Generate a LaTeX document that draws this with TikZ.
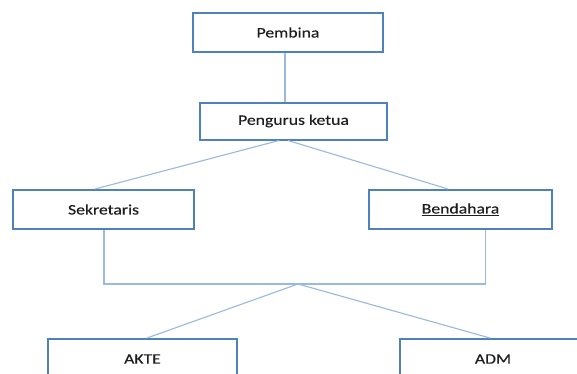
\documentclass[tikz,border=0pt]{standalone}
\usepackage{fontspec}
\setmainfont{Carlito}[FakeStretch=1.22,FakeBold=0.4]
\definecolor{boxblue}{RGB}{79,129,189}
\definecolor{lineblue}{RGB}{155,185,222}
\definecolor{txt}{RGB}{30,30,30}
\begin{document}
\begin{tikzpicture}[x=1pt,y=-1pt,
  orgbox/.style={draw=boxblue,line width=2pt,fill=white,rectangle,inner sep=0pt,
    font=\fontsize{14.5}{16}\selectfont,text=txt},
  conn/.style={draw=lineblue,line width=1.1pt}]
\useasboundingbox (0,0) rectangle (577,373);
\clip (0,0) rectangle (577,373);
\fill[white] (0,0) rectangle (577,373);
% nodes
\node[orgbox,minimum width=190pt,minimum height=39pt] (pembina) at (288,32.5) {Pembina};
\node[orgbox,minimum width=187pt,minimum height=37pt] (ketua) at (293.5,121) {Pengurus ketua};
\node[orgbox,minimum width=181pt,minimum height=39pt] (sekretaris) at (103.5,209.5) {Sekretaris};
\node[orgbox,minimum width=183pt,minimum height=39pt] (bendahara) at (460.5,209.5) {\underline{Bendahara}};
\node[orgbox,minimum width=189pt,minimum height=40pt] (akte) at (142.5,359) {AKTE};
\node[orgbox,minimum width=186pt,minimum height=40pt] (adm) at (493,359) {ADM};
% helper coordinates
\coordinate (c1) at (285,0);
\coordinate (kl) at (279,0);
\coordinate (kr) at (288,0);
\coordinate (sl) at (95,0);
\coordinate (br) at (448,0);
\coordinate (sv) at (104,0);
\coordinate (bv) at (485.5,0);
\coordinate (bar) at (0,284);
\coordinate (junc) at (298,284);
\coordinate (ak) at (147,0);
\coordinate (ad) at (490,0);
% connectors
\draw[conn] (pembina.south -| c1) -- (ketua.north -| c1);
\draw[conn] (ketua.south -| kl) -- (sekretaris.north -| sl);
\draw[conn] (ketua.south -| kr) -- (bendahara.north -| br);
\draw[conn] (sekretaris.south -| sv) -- (bar -| sv) -- (bar -| bv) -- (bendahara.south -| bv);
\draw[conn] (junc) -- (akte.north -| ak);
\draw[conn] (junc) -- (adm.north -| ad);
\end{tikzpicture}
\end{document}
